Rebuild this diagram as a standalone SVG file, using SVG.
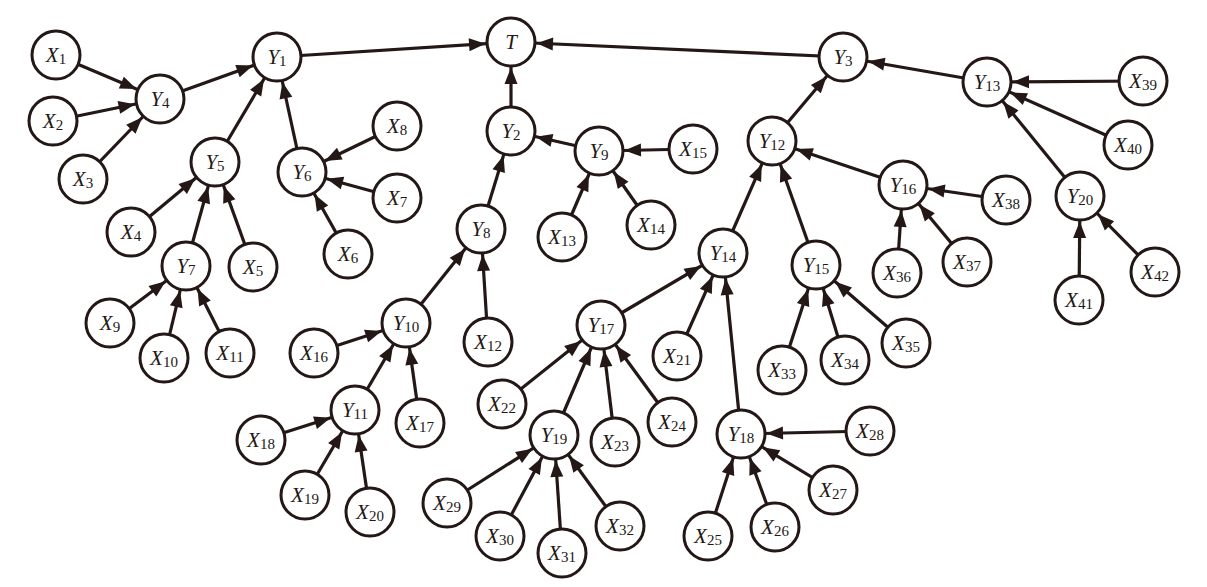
<svg xmlns="http://www.w3.org/2000/svg" width="1207" height="587" viewBox="0 0 1207 587">
<style>
.n circle{fill:#fff;stroke:#231815;stroke-width:3}
text{font-family:"Liberation Serif","Times New Roman",serif;font-size:21px;fill:#231815;text-anchor:middle}
.v{font-style:italic}
.s{font-size:15px;font-style:normal}
#edges line{stroke:#231815;stroke-width:3.2;marker-end:url(#a)}
</style>
<defs>
<marker id="a" markerUnits="userSpaceOnUse" viewBox="-46 -10 50 20" refX="0" refY="0" markerWidth="50" markerHeight="20" orient="auto">
<path d="M-25.5,0 L-42,-6.5 L-42,6.5 Z" fill="#231815"/>
</marker>
</defs>
<rect width="1207" height="587" fill="#fff"/>
<g id="edges">
<line x1="56" y1="55" x2="160" y2="99"/>
<line x1="53" y1="121" x2="160" y2="99"/>
<line x1="83" y1="179" x2="160" y2="99"/>
<line x1="160" y1="99" x2="277" y2="57"/>
<line x1="215" y1="162" x2="277" y2="57"/>
<line x1="302" y1="172" x2="277" y2="57"/>
<line x1="277" y1="57" x2="511" y2="42"/>
<line x1="511" y1="131" x2="511" y2="42"/>
<line x1="843" y1="57" x2="511" y2="42"/>
<line x1="131" y1="232" x2="215" y2="162"/>
<line x1="186" y1="266" x2="215" y2="162"/>
<line x1="253" y1="267" x2="215" y2="162"/>
<line x1="397" y1="126" x2="302" y2="172"/>
<line x1="397" y1="198" x2="302" y2="172"/>
<line x1="348" y1="254" x2="302" y2="172"/>
<line x1="110" y1="323" x2="186" y2="266"/>
<line x1="164" y1="358" x2="186" y2="266"/>
<line x1="230" y1="353" x2="186" y2="266"/>
<line x1="481" y1="229" x2="511" y2="131"/>
<line x1="599" y1="151" x2="511" y2="131"/>
<line x1="562" y1="237" x2="599" y2="151"/>
<line x1="651" y1="225" x2="599" y2="151"/>
<line x1="693" y1="149" x2="599" y2="151"/>
<line x1="406" y1="323" x2="481" y2="229"/>
<line x1="488" y1="342" x2="481" y2="229"/>
<line x1="314" y1="353" x2="406" y2="323"/>
<line x1="355" y1="410" x2="406" y2="323"/>
<line x1="420" y1="423" x2="406" y2="323"/>
<line x1="261" y1="440" x2="355" y2="410"/>
<line x1="305" y1="495" x2="355" y2="410"/>
<line x1="370" y1="512" x2="355" y2="410"/>
<line x1="772" y1="141" x2="843" y2="57"/>
<line x1="987" y1="82" x2="843" y2="57"/>
<line x1="723" y1="253" x2="772" y2="141"/>
<line x1="816" y1="265" x2="772" y2="141"/>
<line x1="903" y1="185" x2="772" y2="141"/>
<line x1="1143" y1="81" x2="987" y2="82"/>
<line x1="1128" y1="145" x2="987" y2="82"/>
<line x1="1080" y1="196" x2="987" y2="82"/>
<line x1="1006" y1="200" x2="903" y2="185"/>
<line x1="897" y1="273" x2="903" y2="185"/>
<line x1="967" y1="262" x2="903" y2="185"/>
<line x1="1079" y1="300" x2="1080" y2="196"/>
<line x1="1155" y1="272" x2="1080" y2="196"/>
<line x1="601" y1="325" x2="723" y2="253"/>
<line x1="677" y1="356" x2="723" y2="253"/>
<line x1="741" y1="434" x2="723" y2="253"/>
<line x1="782" y1="370" x2="816" y2="265"/>
<line x1="845" y1="360" x2="816" y2="265"/>
<line x1="906" y1="343" x2="816" y2="265"/>
<line x1="502" y1="404" x2="601" y2="325"/>
<line x1="554" y1="435" x2="601" y2="325"/>
<line x1="615" y1="442" x2="601" y2="325"/>
<line x1="672" y1="422" x2="601" y2="325"/>
<line x1="447" y1="503" x2="554" y2="435"/>
<line x1="500" y1="536" x2="554" y2="435"/>
<line x1="562" y1="553" x2="554" y2="435"/>
<line x1="620" y1="526" x2="554" y2="435"/>
<line x1="708" y1="536" x2="741" y2="434"/>
<line x1="775" y1="527" x2="741" y2="434"/>
<line x1="833" y1="490" x2="741" y2="434"/>
<line x1="870" y1="431" x2="741" y2="434"/>
</g>
<g id="T" class="n"><circle cx="511" cy="42" r="24"/><text x="511" y="49"><tspan class="v">T</tspan></text></g>
<g id="Y1" class="n"><circle cx="277" cy="57" r="24"/><text x="277" y="64"><tspan class="v">Y</tspan><tspan class="s" dy="2">1</tspan></text></g>
<g id="Y2" class="n"><circle cx="511" cy="131" r="24"/><text x="511" y="138"><tspan class="v">Y</tspan><tspan class="s" dy="2">2</tspan></text></g>
<g id="Y3" class="n"><circle cx="843" cy="57" r="24"/><text x="843" y="64"><tspan class="v">Y</tspan><tspan class="s" dy="2">3</tspan></text></g>
<g id="Y4" class="n"><circle cx="160" cy="99" r="24"/><text x="160" y="106"><tspan class="v">Y</tspan><tspan class="s" dy="2">4</tspan></text></g>
<g id="Y5" class="n"><circle cx="215" cy="162" r="24"/><text x="215" y="169"><tspan class="v">Y</tspan><tspan class="s" dy="2">5</tspan></text></g>
<g id="Y6" class="n"><circle cx="302" cy="172" r="24"/><text x="302" y="179"><tspan class="v">Y</tspan><tspan class="s" dy="2">6</tspan></text></g>
<g id="Y7" class="n"><circle cx="186" cy="266" r="24"/><text x="186" y="273"><tspan class="v">Y</tspan><tspan class="s" dy="2">7</tspan></text></g>
<g id="Y8" class="n"><circle cx="481" cy="229" r="24"/><text x="481" y="236"><tspan class="v">Y</tspan><tspan class="s" dy="2">8</tspan></text></g>
<g id="Y9" class="n"><circle cx="599" cy="151" r="24"/><text x="599" y="158"><tspan class="v">Y</tspan><tspan class="s" dy="2">9</tspan></text></g>
<g id="Y10" class="n"><circle cx="406" cy="323" r="24"/><text x="406" y="330"><tspan class="v">Y</tspan><tspan class="s" dy="2">10</tspan></text></g>
<g id="Y11" class="n"><circle cx="355" cy="410" r="24"/><text x="355" y="417"><tspan class="v">Y</tspan><tspan class="s" dy="2">11</tspan></text></g>
<g id="Y12" class="n"><circle cx="772" cy="141" r="24"/><text x="772" y="148"><tspan class="v">Y</tspan><tspan class="s" dy="2">12</tspan></text></g>
<g id="Y13" class="n"><circle cx="987" cy="82" r="24"/><text x="987" y="89"><tspan class="v">Y</tspan><tspan class="s" dy="2">13</tspan></text></g>
<g id="Y14" class="n"><circle cx="723" cy="253" r="24"/><text x="723" y="260"><tspan class="v">Y</tspan><tspan class="s" dy="2">14</tspan></text></g>
<g id="Y15" class="n"><circle cx="816" cy="265" r="24"/><text x="816" y="272"><tspan class="v">Y</tspan><tspan class="s" dy="2">15</tspan></text></g>
<g id="Y16" class="n"><circle cx="903" cy="185" r="24"/><text x="903" y="192"><tspan class="v">Y</tspan><tspan class="s" dy="2">16</tspan></text></g>
<g id="Y17" class="n"><circle cx="601" cy="325" r="24"/><text x="601" y="332"><tspan class="v">Y</tspan><tspan class="s" dy="2">17</tspan></text></g>
<g id="Y18" class="n"><circle cx="741" cy="434" r="24"/><text x="741" y="441"><tspan class="v">Y</tspan><tspan class="s" dy="2">18</tspan></text></g>
<g id="Y19" class="n"><circle cx="554" cy="435" r="24"/><text x="554" y="442"><tspan class="v">Y</tspan><tspan class="s" dy="2">19</tspan></text></g>
<g id="Y20" class="n"><circle cx="1080" cy="196" r="24"/><text x="1080" y="203"><tspan class="v">Y</tspan><tspan class="s" dy="2">20</tspan></text></g>
<g id="X1" class="n"><circle cx="56" cy="55" r="24"/><text x="56" y="62"><tspan class="v">X</tspan><tspan class="s" dy="2">1</tspan></text></g>
<g id="X2" class="n"><circle cx="53" cy="121" r="24"/><text x="53" y="128"><tspan class="v">X</tspan><tspan class="s" dy="2">2</tspan></text></g>
<g id="X3" class="n"><circle cx="83" cy="179" r="24"/><text x="83" y="186"><tspan class="v">X</tspan><tspan class="s" dy="2">3</tspan></text></g>
<g id="X4" class="n"><circle cx="131" cy="232" r="24"/><text x="131" y="239"><tspan class="v">X</tspan><tspan class="s" dy="2">4</tspan></text></g>
<g id="X5" class="n"><circle cx="253" cy="267" r="24"/><text x="253" y="274"><tspan class="v">X</tspan><tspan class="s" dy="2">5</tspan></text></g>
<g id="X6" class="n"><circle cx="348" cy="254" r="24"/><text x="348" y="261"><tspan class="v">X</tspan><tspan class="s" dy="2">6</tspan></text></g>
<g id="X7" class="n"><circle cx="397" cy="198" r="24"/><text x="397" y="205"><tspan class="v">X</tspan><tspan class="s" dy="2">7</tspan></text></g>
<g id="X8" class="n"><circle cx="397" cy="126" r="24"/><text x="397" y="133"><tspan class="v">X</tspan><tspan class="s" dy="2">8</tspan></text></g>
<g id="X9" class="n"><circle cx="110" cy="323" r="24"/><text x="110" y="330"><tspan class="v">X</tspan><tspan class="s" dy="2">9</tspan></text></g>
<g id="X10" class="n"><circle cx="164" cy="358" r="24"/><text x="164" y="365"><tspan class="v">X</tspan><tspan class="s" dy="2">10</tspan></text></g>
<g id="X11" class="n"><circle cx="230" cy="353" r="24"/><text x="230" y="360"><tspan class="v">X</tspan><tspan class="s" dy="2">11</tspan></text></g>
<g id="X12" class="n"><circle cx="488" cy="342" r="24"/><text x="488" y="349"><tspan class="v">X</tspan><tspan class="s" dy="2">12</tspan></text></g>
<g id="X13" class="n"><circle cx="562" cy="237" r="24"/><text x="562" y="244"><tspan class="v">X</tspan><tspan class="s" dy="2">13</tspan></text></g>
<g id="X14" class="n"><circle cx="651" cy="225" r="24"/><text x="651" y="232"><tspan class="v">X</tspan><tspan class="s" dy="2">14</tspan></text></g>
<g id="X15" class="n"><circle cx="693" cy="149" r="24"/><text x="693" y="156"><tspan class="v">X</tspan><tspan class="s" dy="2">15</tspan></text></g>
<g id="X16" class="n"><circle cx="314" cy="353" r="24"/><text x="314" y="360"><tspan class="v">X</tspan><tspan class="s" dy="2">16</tspan></text></g>
<g id="X17" class="n"><circle cx="420" cy="423" r="24"/><text x="420" y="430"><tspan class="v">X</tspan><tspan class="s" dy="2">17</tspan></text></g>
<g id="X18" class="n"><circle cx="261" cy="440" r="24"/><text x="261" y="447"><tspan class="v">X</tspan><tspan class="s" dy="2">18</tspan></text></g>
<g id="X19" class="n"><circle cx="305" cy="495" r="24"/><text x="305" y="502"><tspan class="v">X</tspan><tspan class="s" dy="2">19</tspan></text></g>
<g id="X20" class="n"><circle cx="370" cy="512" r="24"/><text x="370" y="519"><tspan class="v">X</tspan><tspan class="s" dy="2">20</tspan></text></g>
<g id="X21" class="n"><circle cx="677" cy="356" r="24"/><text x="677" y="363"><tspan class="v">X</tspan><tspan class="s" dy="2">21</tspan></text></g>
<g id="X22" class="n"><circle cx="502" cy="404" r="24"/><text x="502" y="411"><tspan class="v">X</tspan><tspan class="s" dy="2">22</tspan></text></g>
<g id="X23" class="n"><circle cx="615" cy="442" r="24"/><text x="615" y="449"><tspan class="v">X</tspan><tspan class="s" dy="2">23</tspan></text></g>
<g id="X24" class="n"><circle cx="672" cy="422" r="24"/><text x="672" y="429"><tspan class="v">X</tspan><tspan class="s" dy="2">24</tspan></text></g>
<g id="X25" class="n"><circle cx="708" cy="536" r="24"/><text x="708" y="543"><tspan class="v">X</tspan><tspan class="s" dy="2">25</tspan></text></g>
<g id="X26" class="n"><circle cx="775" cy="527" r="24"/><text x="775" y="534"><tspan class="v">X</tspan><tspan class="s" dy="2">26</tspan></text></g>
<g id="X27" class="n"><circle cx="833" cy="490" r="24"/><text x="833" y="497"><tspan class="v">X</tspan><tspan class="s" dy="2">27</tspan></text></g>
<g id="X28" class="n"><circle cx="870" cy="431" r="24"/><text x="870" y="438"><tspan class="v">X</tspan><tspan class="s" dy="2">28</tspan></text></g>
<g id="X29" class="n"><circle cx="447" cy="503" r="24"/><text x="447" y="510"><tspan class="v">X</tspan><tspan class="s" dy="2">29</tspan></text></g>
<g id="X30" class="n"><circle cx="500" cy="536" r="24"/><text x="500" y="543"><tspan class="v">X</tspan><tspan class="s" dy="2">30</tspan></text></g>
<g id="X31" class="n"><circle cx="562" cy="553" r="24"/><text x="562" y="560"><tspan class="v">X</tspan><tspan class="s" dy="2">31</tspan></text></g>
<g id="X32" class="n"><circle cx="620" cy="526" r="24"/><text x="620" y="533"><tspan class="v">X</tspan><tspan class="s" dy="2">32</tspan></text></g>
<g id="X33" class="n"><circle cx="782" cy="370" r="24"/><text x="782" y="377"><tspan class="v">X</tspan><tspan class="s" dy="2">33</tspan></text></g>
<g id="X34" class="n"><circle cx="845" cy="360" r="24"/><text x="845" y="367"><tspan class="v">X</tspan><tspan class="s" dy="2">34</tspan></text></g>
<g id="X35" class="n"><circle cx="906" cy="343" r="24"/><text x="906" y="350"><tspan class="v">X</tspan><tspan class="s" dy="2">35</tspan></text></g>
<g id="X36" class="n"><circle cx="897" cy="273" r="24"/><text x="897" y="280"><tspan class="v">X</tspan><tspan class="s" dy="2">36</tspan></text></g>
<g id="X37" class="n"><circle cx="967" cy="262" r="24"/><text x="967" y="269"><tspan class="v">X</tspan><tspan class="s" dy="2">37</tspan></text></g>
<g id="X38" class="n"><circle cx="1006" cy="200" r="24"/><text x="1006" y="207"><tspan class="v">X</tspan><tspan class="s" dy="2">38</tspan></text></g>
<g id="X39" class="n"><circle cx="1143" cy="81" r="24"/><text x="1143" y="88"><tspan class="v">X</tspan><tspan class="s" dy="2">39</tspan></text></g>
<g id="X40" class="n"><circle cx="1128" cy="145" r="24"/><text x="1128" y="152"><tspan class="v">X</tspan><tspan class="s" dy="2">40</tspan></text></g>
<g id="X41" class="n"><circle cx="1079" cy="300" r="24"/><text x="1079" y="307"><tspan class="v">X</tspan><tspan class="s" dy="2">41</tspan></text></g>
<g id="X42" class="n"><circle cx="1155" cy="272" r="24"/><text x="1155" y="279"><tspan class="v">X</tspan><tspan class="s" dy="2">42</tspan></text></g>
</svg>
